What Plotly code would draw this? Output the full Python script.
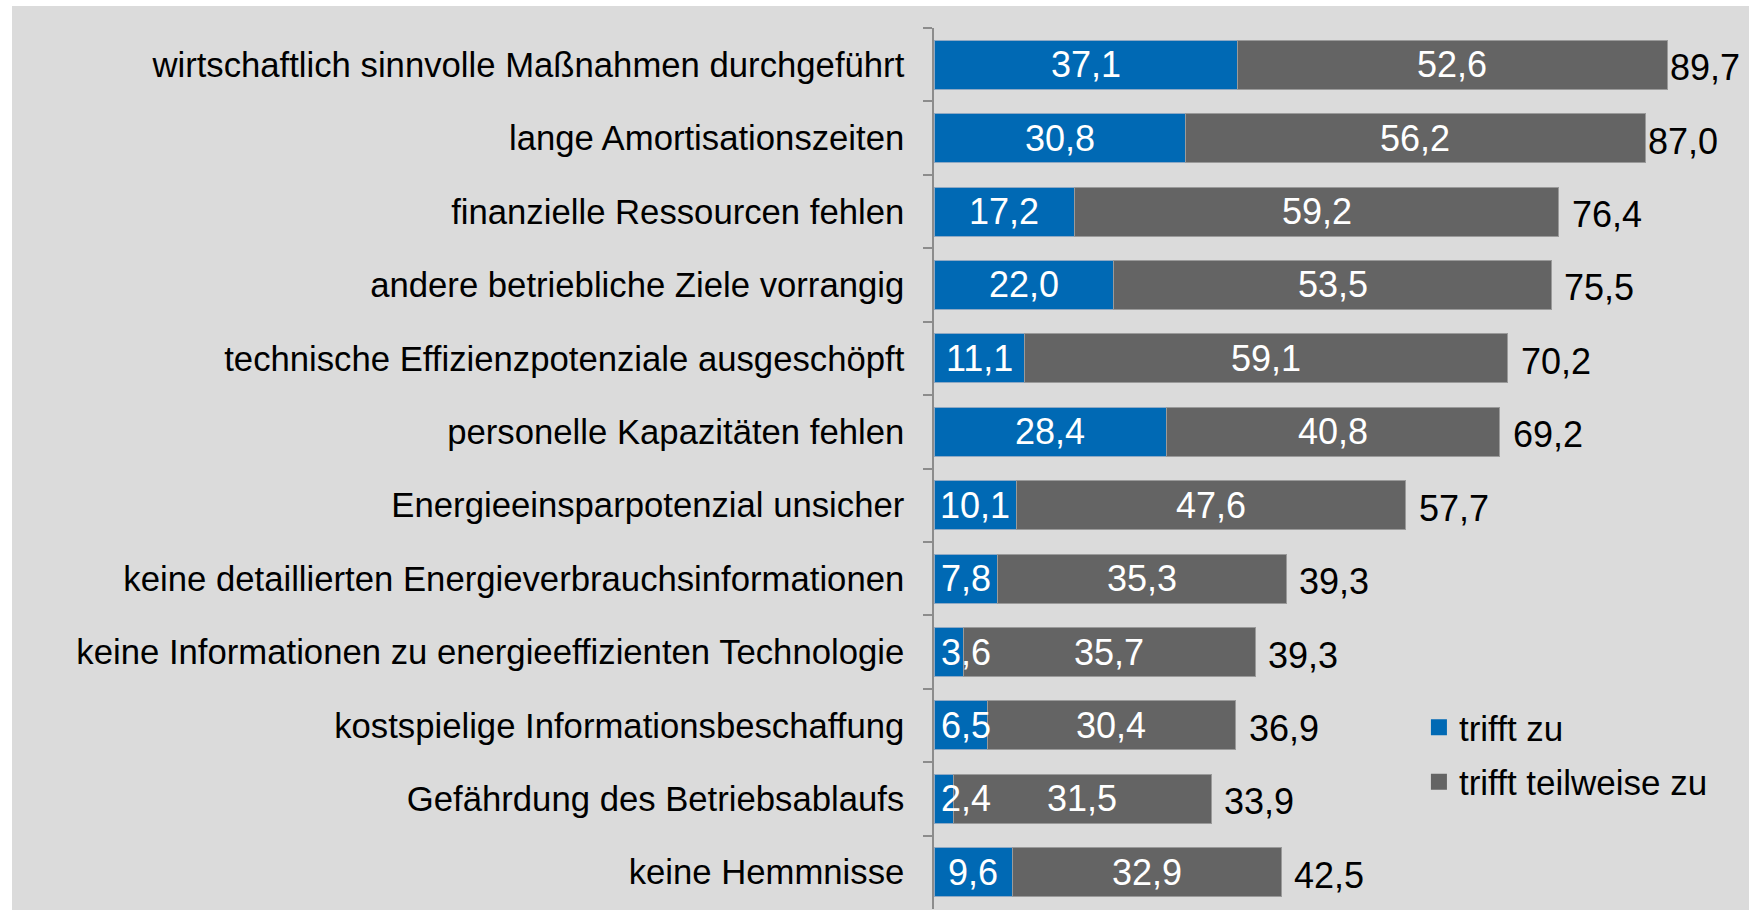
import plotly.graph_objects as go

categories = [
    "wirtschaftlich sinnvolle Maßnahmen durchgeführt",
    "lange Amortisationszeiten",
    "finanzielle Ressourcen fehlen",
    "andere betriebliche Ziele vorrangig",
    "technische Effizienzpotenziale ausgeschöpft",
    "personelle Kapazitäten fehlen",
    "Energieeinsparpotenzial unsicher",
    "keine detaillierten Energieverbrauchsinformationen",
    "keine Informationen zu energieeffizienten Technologie",
    "kostspielige Informationsbeschaffung",
    "Gefährdung des Betriebsablaufs",
    "keine Hemmnisse",
]
trifft_zu = [37.1, 30.8, 17.2, 22.0, 11.1, 28.4, 10.1, 7.8, 3.6, 6.5, 2.4, 9.6]
trifft_teilweise = [52.6, 56.2, 59.2, 53.5, 59.1, 40.8, 47.6, 35.3, 35.7, 30.4, 31.5, 32.9]
total_labels = [89.7, 87.0, 76.4, 75.5, 70.2, 69.2, 57.7, 39.3, 39.3, 36.9, 33.9, 42.5]
series_names = ["trifft zu", "trifft teilweise zu"]

BLUE = "#0069b4"
GREY = "#646464"
BG = "#dbdbdb"
FONT = "Liberation Sans, Arial, sans-serif"


def fmt(v):
    return f"{v:.1f}".replace(".", ",")


fig = go.Figure()
fig.add_trace(go.Bar(
    y=categories, x=trifft_zu, orientation="h", name=series_names[0],
    marker=dict(color=BLUE, line=dict(color="#8fa9c4", width=1)),
    showlegend=False, hoverinfo="x+y",
))
fig.add_trace(go.Bar(
    y=categories, x=trifft_teilweise, orientation="h", name=series_names[1],
    marker=dict(color=GREY, line=dict(color="#9a9a9a", width=1)),
    showlegend=False, hoverinfo="x+y",
))
# legend entries (larger square markers)
for nm, col in zip(series_names, [BLUE, GREY]):
    fig.add_trace(go.Scatter(
        x=[None], y=[None], mode="markers", name=nm, legendgroup=nm,
        marker=dict(symbol="square", size=16, color=col),
        showlegend=True,
    ))

annotations = []
for cat, b, g, t in zip(categories, trifft_zu, trifft_teilweise, total_labels):
    annotations.append(dict(
        x=max(b / 2, 3.9), y=cat, xref="x", yref="y", text=fmt(b),
        showarrow=False, font=dict(family=FONT, size=36, color="white"),
        xanchor="center", yanchor="middle",
    ))
    annotations.append(dict(
        x=b + g / 2, y=cat, xref="x", yref="y", text=fmt(g),
        showarrow=False, font=dict(family=FONT, size=36, color="white"),
        xanchor="center", yanchor="middle",
    ))
    annotations.append(dict(
        x=b + g, y=cat, xref="x", yref="y", text=fmt(t),
        showarrow=False, font=dict(family=FONT, size=36, color="black"),
        xanchor="left", yanchor="middle",
        xshift=(1 if b + g > 85 else 11), yshift=-3,
    ))

fig.update_layout(
    width=1749, height=910,
    barmode="stack", bargap=0.333,
    paper_bgcolor=BG, plot_bgcolor=BG,
    margin=dict(l=934, r=0, t=28, b=1, pad=0),
    font=dict(family=FONT, size=35, color="black"),
    annotations=annotations,
    legend=dict(
        x=0.595, y=0.2395, xanchor="left", yanchor="top",
        bgcolor="rgba(0,0,0,0)", font=dict(family=FONT, size=35, color="black"),
        itemsizing="trace", traceorder="grouped", tracegroupgap=6,
    ),
    shapes=[
        dict(type="rect", xref="paper", yref="paper", x0=-1.2, x1=(12 - 934) / 815,
             y0=-0.1, y1=1.2, fillcolor="white", line=dict(width=0), layer="below"),
        dict(type="rect", xref="paper", yref="paper", x0=-1.2, x1=1.1,
             y0=(909 - 6) / 881, y1=1.2, fillcolor="white", line=dict(width=0), layer="below"),
    ],
    xaxis=dict(range=[0, 99.7], visible=False, showgrid=False, zeroline=False, fixedrange=True),
    yaxis=dict(
        categoryorder="array", categoryarray=categories, autorange="reversed",
        showline=True, linecolor="#8c8c8c", linewidth=1.5,
        ticks="outside", tickson="boundaries", ticklen=9, tickcolor="#8c8c8c", tickwidth=1.5,
        tickfont=dict(family=FONT, size=34.7, color="black"),
        ticklabelstandoff=21, showgrid=False, zeroline=False,
    ),
)

fig.write_html(
    "out.html",
    config={"displayModeBar": False},
    post_script="document.body.style.margin='0';document.body.style.overflow='hidden';",
)
